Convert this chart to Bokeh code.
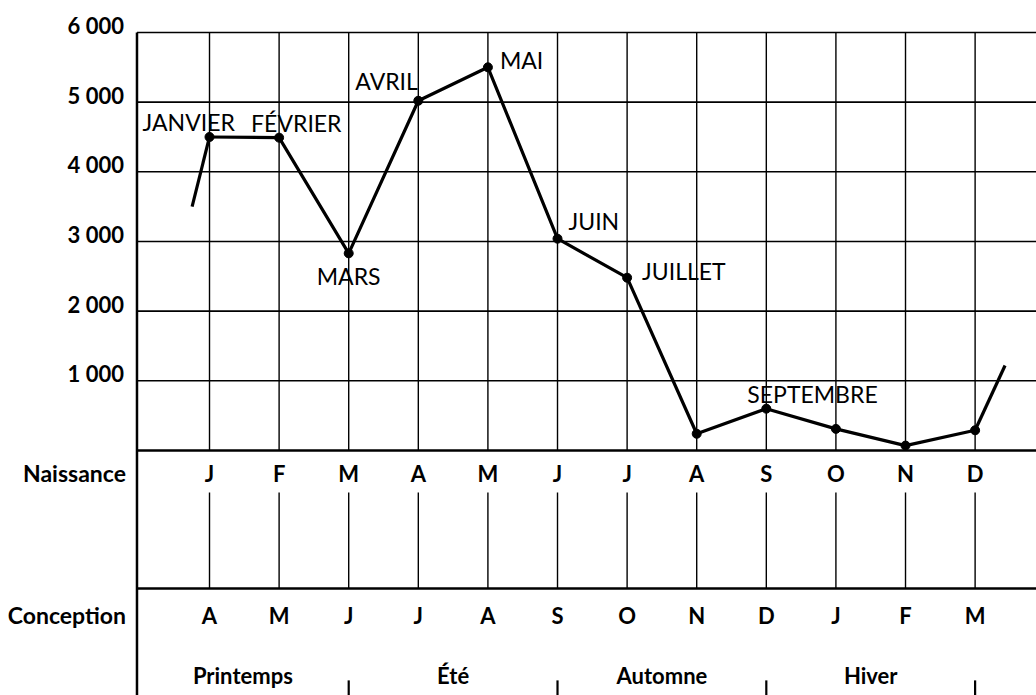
from bokeh.plotting import figure
from bokeh.embed import file_html
from bokeh.resources import INLINE
from bokeh.models import ColumnDataSource, Range1d
from bokeh.core.properties import value

# ---------------- data ----------------
month_pos = [1, 2, 3, 4, 5, 6, 7, 8, 9, 10, 11, 12]
births = [4500, 4490, 2830, 5020, 5500, 3040, 2480, 240, 600, 310, 70, 290]
point_labels = ["JANVIER", "FÉVRIER", "MARS", "AVRIL", "MAI", "JUIN",
                "JUILLET", "", "SEPTEMBRE", "", "", ""]
# partial segments coming from the previous December / going to next January
stub_start_x = [0.75, 1]
stub_start_y = [3500, 4500]
stub_end_x = [12, 12.43]
stub_end_y = [290, 1220]

naissance_letters = ["J", "F", "M", "A", "M", "J", "J", "A", "S", "O", "N", "D"]
conception_letters = ["A", "M", "J", "J", "A", "S", "O", "N", "D", "J", "F", "M"]
seasons = ["Printemps", "Été", "Automne", "Hiver"]
season_bounds = [3, 6, 9, 12]

y_ticks = [1000, 2000, 3000, 4000, 5000, 6000]
y_tick_labels = ["1 000", "2 000", "3 000", "4 000", "5 000", "6 000"]

# ---------------- layout (positions/styles) ----------------
label_dx = [-67, -28, -32, -63, 12, 11, 15, 0, -19, 0, 0, 0]
label_dy = [-15, -15, 23, -20, -7, -18, -7, 0, -15, 0, 0, 0]

X_LEFT = -0.042
X_MIN, X_MAX = -2.003, 12.882
Y_MIN, Y_MAX = -3517, 6459
Y_NAIS = -330
Y_NAIS_LINE_TOP = -603
Y_ROW_LINE = -1981
Y_CONC = -2368
Y_SEASON = -3230
Y_SEASON_TICK_TOP = -3230

BOLD = value("Lato")
REG = value("Lato")

p = figure(width=1036, height=695, output_backend="svg", toolbar_location=None,
           x_range=Range1d(X_MIN, X_MAX), y_range=Range1d(Y_MIN, Y_MAX),
           x_axis_type=None, y_axis_type=None, min_border=0,
           background_fill_color="white", border_fill_color="white")
p.outline_line_color = None
p.xgrid.visible = False
p.ygrid.visible = False

# horizontal grid lines (incl. top border)
p.segment(x0=[X_LEFT] * len(y_ticks), x1=[X_MAX] * len(y_ticks),
          y0=y_ticks, y1=y_ticks, line_color="black", line_width=1.6)
# vertical grid lines
p.segment(x0=month_pos, x1=month_pos, y0=[0] * 12, y1=[6000] * 12,
          line_color="black", line_width=1.4)
# left border
p.segment(x0=[X_LEFT], x1=[X_LEFT], y0=[Y_MIN], y1=[6000],
          line_color="black", line_width=2.5)
# baseline and row separator
p.segment(x0=[X_LEFT, X_LEFT], x1=[X_MAX, X_MAX], y0=[0, Y_ROW_LINE],
          y1=[0, Y_ROW_LINE], line_color="black", line_width=2.6)
# short verticals in Naissance row
p.segment(x0=month_pos, x1=month_pos, y0=[Y_NAIS_LINE_TOP] * 12,
          y1=[Y_ROW_LINE] * 12, line_color="black", line_width=1.4)
# season separators
p.segment(x0=season_bounds, x1=season_bounds, y0=[-3300] * 4,
          y1=[Y_MIN] * 4, line_color="black", line_width=2.2)

# data line
p.line(stub_start_x, stub_start_y, line_color="black", line_width=3.2)
p.line(stub_end_x, stub_end_y, line_color="black", line_width=3.2)
p.line(month_pos, births, line_color="black", line_width=3.2)
p.scatter(month_pos, births, size=9, fill_color="black", line_color="black")

# point labels
src = ColumnDataSource(dict(x=month_pos, y=births, t=point_labels,
                            dx=label_dx, dy=label_dy))
p.text(x="x", y="y", text="t", x_offset="dx", y_offset="dy", source=src,
       text_font=REG, text_font_size="23px", text_align="left",
       text_baseline="middle", text_color="black")

# y tick labels
p.text(x=[X_LEFT] * 6, y=y_ticks, text=y_tick_labels, x_offset=-13, y_offset=-7,
       text_font=BOLD, text_font_style="bold", text_font_size="22px",
       text_align="right", text_baseline="middle", text_color="black")

# row titles
p.text(x=[X_LEFT, X_LEFT], y=[Y_NAIS, Y_CONC], text=["Naissance", "Conception"],
       x_offset=-11, text_font=BOLD, text_font_style="bold", text_font_size="23px",
       text_align="right", text_baseline="middle", text_color="black")

# month letters
p.text(x=month_pos, y=[Y_NAIS] * 12, text=naissance_letters,
       text_font=BOLD, text_font_style="bold", text_font_size="22px",
       text_align="center", text_baseline="middle", text_color="black")
p.text(x=month_pos, y=[Y_CONC] * 12, text=conception_letters,
       text_font=BOLD, text_font_style="bold", text_font_size="22px",
       text_align="center", text_baseline="middle", text_color="black")

# seasons
season_x = [(X_LEFT + 3) / 2, 4.5, 7.5, 10.5]
p.text(x=season_x, y=[Y_SEASON] * 4, text=seasons,
       text_font=BOLD, text_font_style="bold", text_font_size="22px",
       text_align="center", text_baseline="middle", text_color="black")

open("out.html", "w").write(file_html(p, INLINE))
